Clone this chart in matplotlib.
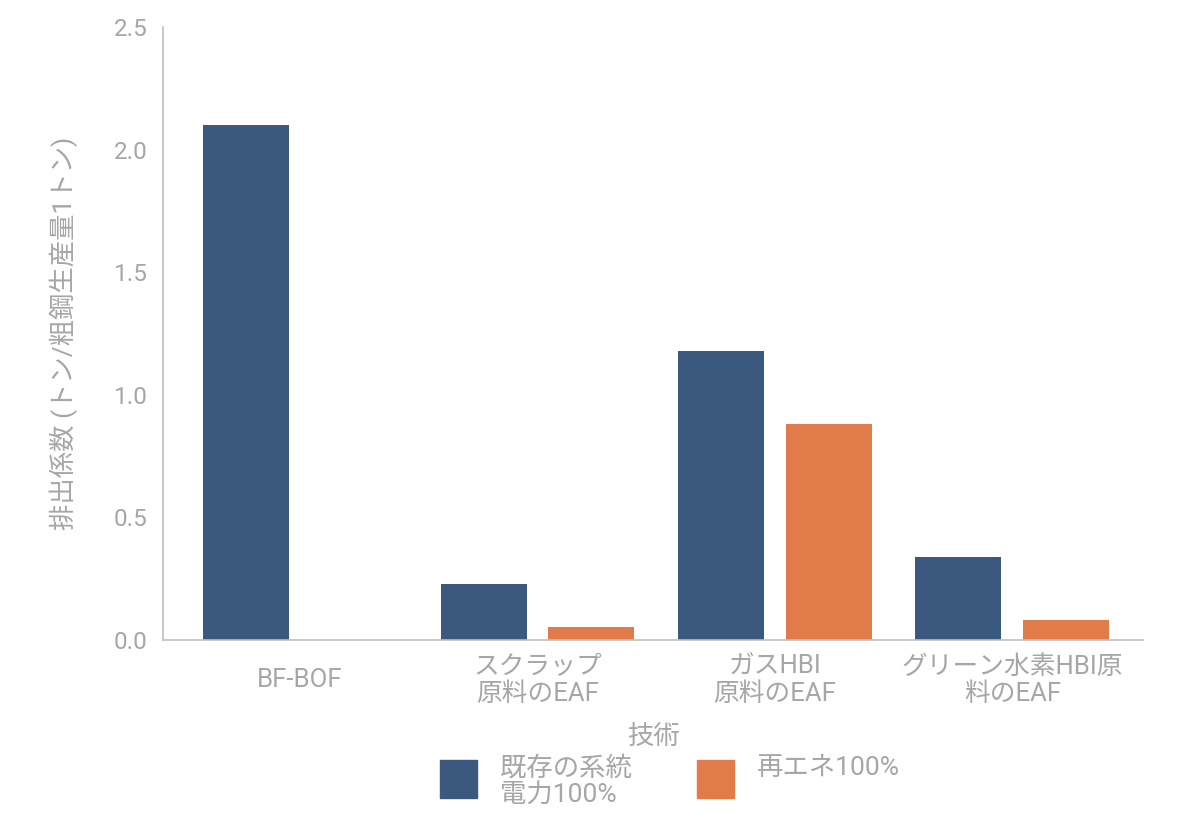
import numpy as np
import matplotlib
matplotlib.use("Agg")
import matplotlib.pyplot as plt
from matplotlib.patches import Rectangle

plt.rcParams['font.family'] = ['Roboto', 'Noto Sans CJK JP', 'DejaVu Sans']

# データ
technologies = ['BF-BOF', 'スクラップ\n原料のEAF', 'ガスHBI\n原料のEAF', 'グリーン水素HBI原\n料のEAF']
grid_power = [2.10, 0.23, 1.18, 0.34]
renewable = [np.nan, 0.053, 0.88, 0.082]
series_names = ['既存の系統\n電力100%', '再エネ100%']
y_ticks = [0.0, 0.5, 1.0, 1.5, 2.0, 2.5]

color_blue = '#3b597e'
color_orange = '#e17b4a'
color_text = '#a6a6a6'
color_axis = '#bfbfbf'

fig = plt.figure(figsize=(12.04, 8.26), dpi=100)
ax = fig.add_axes([0.1354, 0.2252, 0.8139, 0.7421])

x = np.arange(len(technologies))
width = 0.362
offset = 0.227
ax.bar(x - offset, grid_power, width, color=color_blue, label=series_names[0])
ax.bar(x + offset, renewable, width, color=color_orange, label=series_names[1])

ax.set_xlim(-0.577, 3.55)
ax.set_ylim(0, 2.5)
ax.set_yticks(y_ticks)
ax.set_yticklabels([f'{v:.1f}' for v in y_ticks], fontsize=17.5, color=color_text)
ax.set_xticks(x)
ax.set_xticklabels(technologies, fontsize=18.5, color=color_text, linespacing=1.15)
for lbl in ax.get_xticklabels():
    lbl.set_va('center')
ax.tick_params(axis='x', length=0, pad=29)
ax.tick_params(axis='y', length=0, pad=11)

for side in ['top', 'right']:
    ax.spines[side].set_visible(False)
for side in ['left', 'bottom']:
    ax.spines[side].set_color(color_axis)
    ax.spines[side].set_linewidth(1.2)

ax.set_ylabel('排出係数 (トン/粗鋼生産量1トン)', fontsize=19, color=color_text, labelpad=26)
ax.set_xlabel('技術', fontsize=19, color=color_text, labelpad=14)

# 凡例（手動で配置）
legend_items = [(0.3654, 0.4153, color_blue, series_names[0]),
                (0.5789, 0.6287, color_orange, series_names[1])]
for box_x, text_x, col, name in legend_items:
    fig.add_artist(Rectangle((box_x, 0.0339), 0.0307, 0.046,
                             transform=fig.transFigure, color=col))
    fig.text(text_x, 0.085, name, fontsize=19, color=color_text,
             va='top', ha='left', linespacing=1.15)

fig.savefig('out.png', dpi=100, facecolor='white')
